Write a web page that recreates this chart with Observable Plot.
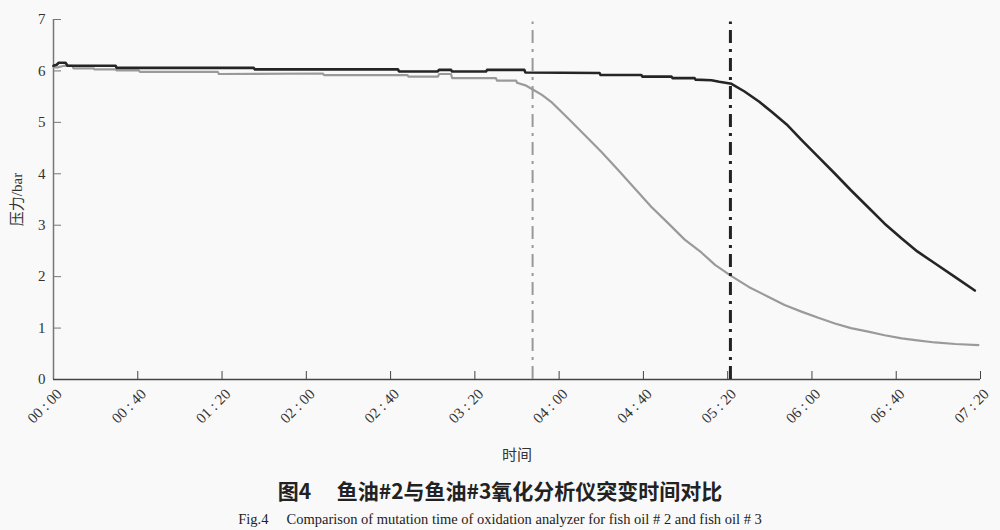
<!DOCTYPE html>
<html><head><meta charset="utf-8">
<script src="https://cdn.jsdelivr.net/npm/d3@7"></script>
<script src="https://cdn.jsdelivr.net/npm/@observablehq/plot@0.6"></script>
<style>
html,body{margin:0;padding:0;background:#f9f9f9;}
body{width:1000px;height:530px;overflow:hidden;position:relative;}
#title{position:absolute;left:0;width:1000px;top:477px;text-align:center;font-family:"Noto Sans CJK SC",sans-serif;font-weight:bold;font-size:21px;line-height:26px;color:#222;white-space:pre;}
#sub{position:absolute;left:0;width:1000px;top:510px;text-align:center;font-family:"Liberation Serif",serif;font-size:14.5px;line-height:18px;color:#222;white-space:pre;}
</style></head>
<body>
<div id="chart"></div>
<div id="title"></div>
<div id="sub"></div>
<script>
// x ticks (minutes) and labels
const xTicks = [0, 40, 80, 120, 160, 200, 240, 280, 320, 360, 400, 440];
const xTickLabels = ["00 : 00","00 : 40","01 : 20","02 : 00","02 : 40","03 : 20","04 : 00","04 : 40","05 : 20","06 : 00","06 : 40","07 : 20"];
const yTicks = [0, 1, 2, 3, 4, 5, 6, 7];

// Fish oil (black curve): time in minutes, pressure in bar
const blackTime = [0,1.5,2.5,5.7,6.7,29.5,30,95,95.5,163.5,164,182.4,183,188.7,189.2,205.3,205.8,223.5,224,259.2,259.7,279,279.5,293.3,293.8,304.3,304.8,312.3,316,321.8,328,335,341,348,355,363,370.7,378.5,386.9,394.5,402.6,410,418.3,428,437.3];
const blackPressure = [6.10,6.12,6.16,6.16,6.10,6.10,6.06,6.06,6.03,6.03,5.99,5.99,6.02,6.02,5.99,5.99,6.02,6.02,5.97,5.96,5.92,5.92,5.89,5.89,5.86,5.86,5.83,5.82,5.79,5.75,5.60,5.40,5.20,4.96,4.66,4.33,4.01,3.68,3.34,3.03,2.74,2.49,2.26,1.99,1.73];

// Fish oil (gray curve)
const grayTime = [0,2,5,9,9.5,19,19.5,29.5,30,40.5,41,78,78.5,127.9,128.4,168,168.5,182.5,183,188.7,189.2,210,210.5,219.6,220,224,227.5,232,236.2,244.2,252,260,267.9,275.8,283.7,291.7,299.6,307.5,314,321.8,330,339.2,347,355,363,370.9,378.5,386.7,394.5,402.6,410,418.4,428,439];
const grayPressure = [6.07,6.07,6.10,6.10,6.05,6.05,6.03,6.03,6.01,6.01,5.98,5.98,5.94,5.95,5.92,5.92,5.89,5.89,5.94,5.94,5.86,5.86,5.81,5.81,5.77,5.72,5.64,5.53,5.40,5.08,4.76,4.43,4.08,3.72,3.36,3.04,2.72,2.47,2.23,2.01,1.80,1.61,1.45,1.32,1.20,1.09,1.00,0.93,0.86,0.80,0.76,0.72,0.69,0.67];

// mutation times (minutes)
const grayMutation = [227.4];
const blackMutation = [321.3];
const mutationTop = 6.95;

const black = blackTime.map((t, i) => ({t, p: blackPressure[i]}));
const gray = grayTime.map((t, i) => ({t, p: grayPressure[i]}));

const chart = Plot.plot({
  width: 1000,
  height: 470,
  marginLeft: 53,
  marginRight: 20,
  marginTop: 19,
  marginBottom: 91,
  style: {background: "transparent", fontFamily: "'Liberation Serif', 'Noto Sans CJK SC', serif", fontSize: "16px", color: "#333"},
  x: {domain: [0, 440]},
  y: {domain: [0, 7]},
  marks: [
    Plot.axisY(yTicks, {tickSize: 8, dx: 8, tickFormat: () => "", label: null, stroke: "#777"}),
    Plot.axisY(yTicks, {tickSize: 0, tickPadding: 8, tickFormat: d => String(d), label: "压力/bar", labelAnchor: "center", labelOffset: 42, labelArrow: "none", fontSize: 15}),
    Plot.axisX(xTicks, {tickSize: 8, dy: -8, tickFormat: () => "", label: null, stroke: "#444"}),
    Plot.axisX(xTicks, {tickSize: 0, tickRotate: -45, tickPadding: 12, dx: 6, tickFormat: d => xTickLabels[xTicks.indexOf(d)], label: "时间", labelAnchor: "center", labelOffset: 80, labelArrow: "none", fontSize: 15}),
    Plot.ruleX([0], {stroke: "#777", strokeWidth: 1.5}),
    Plot.ruleY([0], {stroke: "#444", strokeWidth: 1.5}),
    Plot.line(gray, {x: "t", y: "p", stroke: "#9a9a9a", strokeWidth: 2.2}),
    Plot.line(black, {x: "t", y: "p", stroke: "#252525", strokeWidth: 2.6}),
    Plot.ruleX(grayMutation, {y1: 0, y2: mutationTop, stroke: "#999", strokeWidth: 2, strokeDasharray: "13,6,3,6"}),
    Plot.ruleX(blackMutation, {y1: 0, y2: mutationTop, stroke: "#222", strokeWidth: 3, strokeDasharray: "13,6,3,6"})
  ]
});
document.getElementById("chart").appendChild(chart);
document.getElementById("title").textContent = "图4\u3000 鱼油#2与鱼油#3氧化分析仪突变时间对比";
document.getElementById("sub").textContent = "Fig.4\u2003 Comparison of mutation time of oxidation analyzer for fish oil # 2 and fish oil # 3";
</script>
</body></html>
